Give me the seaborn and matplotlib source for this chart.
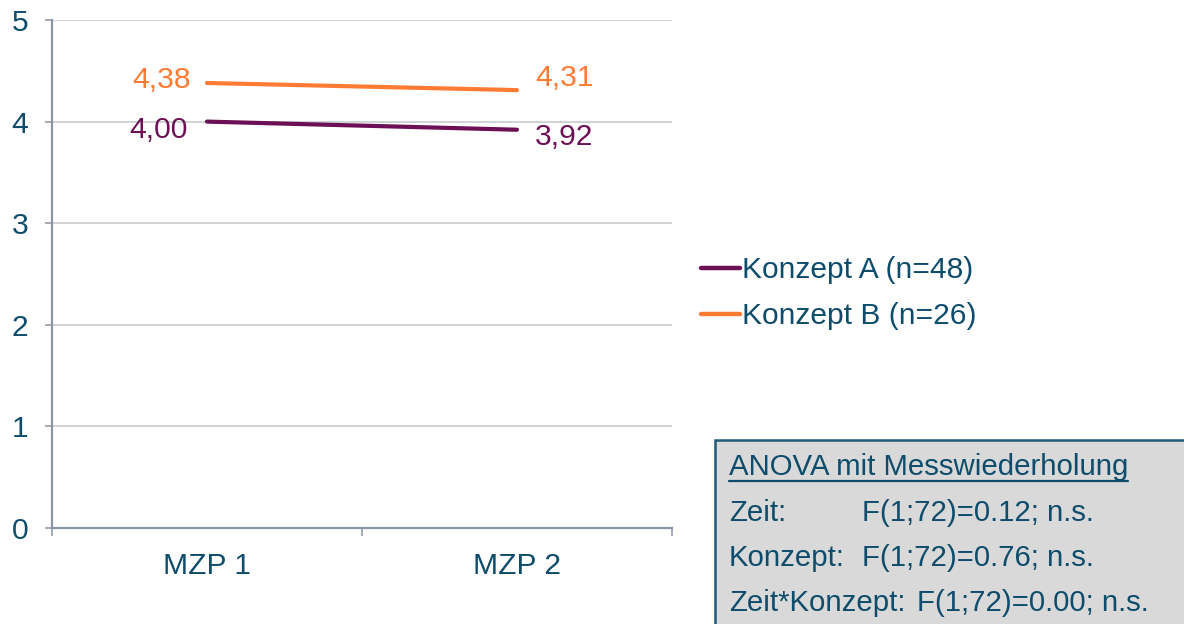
import matplotlib
matplotlib.use("Agg")
import matplotlib.pyplot as plt
from matplotlib.patches import Rectangle
from matplotlib.lines import Line2D
import pandas as pd
import seaborn as sns

# Data
timepoints = ["MZP 1", "MZP 2"]
konzept_a = [4.00, 3.92]
konzept_b = [4.38, 4.31]
series_names = ["Konzept A (n=48)", "Konzept B (n=26)"]
label_a = ["4,00", "3,92"]
label_b = ["4,38", "4,31"]
anova_title = "ANOVA mit Messwiederholung"
anova_rows = [("Zeit:", "F(1;72)=0.12; n.s."),
              ("Konzept:", "F(1;72)=0.76; n.s."),
              ("Zeit*Konzept:", "F(1;72)=0.00; n.s.")]

TEXT = "#0E4C6C"
PURPLE = "#6C0F55"
ORANGE = "#FF7B33"
GRID = "#C4C8CC"
AXIS = "#8A96A3"
FS = 21.6

sns.set_theme(style="white")
plt.rcParams["font.family"] = ["Liberation Sans", "DejaVu Sans"]

df = pd.DataFrame({
    "Zeitpunkt": timepoints * 2,
    "pos": [0, 1, 0, 1],
    "Wert": konzept_a + konzept_b,
    "Gruppe": [series_names[0]] * 2 + [series_names[1]] * 2,
})

W, H = 1184, 624
fig = plt.figure(figsize=(W / 100, H / 100), dpi=100)
ax = fig.add_axes([52 / W, 1 - 528 / H, 620 / W, 508 / H])

sns.lineplot(data=df, x="pos", y="Wert", hue="Gruppe",
             palette=[PURPLE, ORANGE], linewidth=3.0, ax=ax)
for line in ax.get_lines():
    line.set_solid_capstyle("round")

ax.set_xlim(-0.5, 1.5)
ax.set_ylim(0, 5)
ax.set_yticks(range(6))
ax.set_xticks([0, 1])
ax.set_xticklabels(timepoints)
ax.set_xticks([-0.5, 0.5, 1.5], minor=True)
ax.set_xlabel("")
ax.set_ylabel("")

ax.grid(axis="y", color=GRID, linewidth=1.1)
ax.grid(axis="x", visible=False)
ax.set_axisbelow(True)
for s in ["top", "right"]:
    ax.spines[s].set_visible(False)
for s in ["left", "bottom"]:
    ax.spines[s].set_color(AXIS)
    ax.spines[s].set_linewidth(1.6)

ax.tick_params(axis="y", which="major", length=5, width=1.1, color=AXIS,
               labelsize=FS, pad=12, left=True)
ax.tick_params(axis="x", which="major", length=0,
               labelsize=FS, pad=17)
ax.tick_params(axis="x", which="minor", length=6, width=1.1, color=AXIS,
               bottom=True, direction="out")
for t in ax.get_yticklabels() + ax.get_xticklabels():
    t.set_color(TEXT)

# Data labels
for i, (v, lab) in enumerate(zip(konzept_b, label_b)):
    if i == 0:
        ax.annotate(lab, (i, v), xytext=(-12, 2), textcoords="offset points",
                    ha="right", va="center", fontsize=FS, color=ORANGE)
    else:
        ax.annotate(lab, (i, v), xytext=(13, 9), textcoords="offset points",
                    ha="left", va="center", fontsize=FS, color=ORANGE)
for i, (v, lab) in enumerate(zip(konzept_a, label_a)):
    if i == 0:
        ax.annotate(lab, (i, v), xytext=(-14, -6), textcoords="offset points",
                    ha="right", va="center", fontsize=FS, color=PURPLE)
    else:
        ax.annotate(lab, (i, v), xytext=(13, -5), textcoords="offset points",
                    ha="left", va="center", fontsize=FS, color=PURPLE)

# Legend
leg = ax.legend(loc="center left", bbox_to_anchor=(686 / W, 1 - 293 / H),
                bbox_transform=fig.transFigure, frameon=False,
                fontsize=FS, handlelength=1.3, handletextpad=0.05,
                labelspacing=0.6, borderpad=0)
for t in leg.get_texts():
    t.set_color(TEXT)
for h in leg.get_lines():
    h.set_linewidth(3.2)
    h.set_solid_capstyle("round")

# ANOVA box
box = Rectangle((715 / W, -0.05), (W - 715 + 20) / W, (1 - 440 / H) + 0.05,
                transform=fig.transFigure, facecolor="#D9D9D9",
                edgecolor="#1E5A78", linewidth=1.8, clip_on=False)
fig.patches.append(box)

title = fig.text(729 / W, 1 - 467 / H, anova_title, fontsize=21.2,
                 color=TEXT, va="center", ha="left")
row_y = [513, 558, 603]
val_x = [862, 862, 905]
fig.canvas.draw()
renderer = fig.canvas.get_renderer()
for (lab, val), y, vx in zip(anova_rows, row_y, val_x):
    t = fig.text(729 / W, 1 - y / H, lab, fontsize=21.2, color=TEXT,
                 va="center", ha="left")
    end = t.get_window_extent(renderer).x1
    x = max(vx, end + 12)
    fig.text(x / W, 1 - y / H, val, fontsize=21.2, color=TEXT,
             va="center", ha="left")

# underline for the box title
bb = title.get_window_extent(renderer).transformed(fig.transFigure.inverted())
uy = 1 - 481 / H
fig.lines.append(Line2D([bb.x0, bb.x1], [uy, uy], transform=fig.transFigure,
                        color=TEXT, linewidth=1.6))

fig.savefig("out.png", dpi=100)
